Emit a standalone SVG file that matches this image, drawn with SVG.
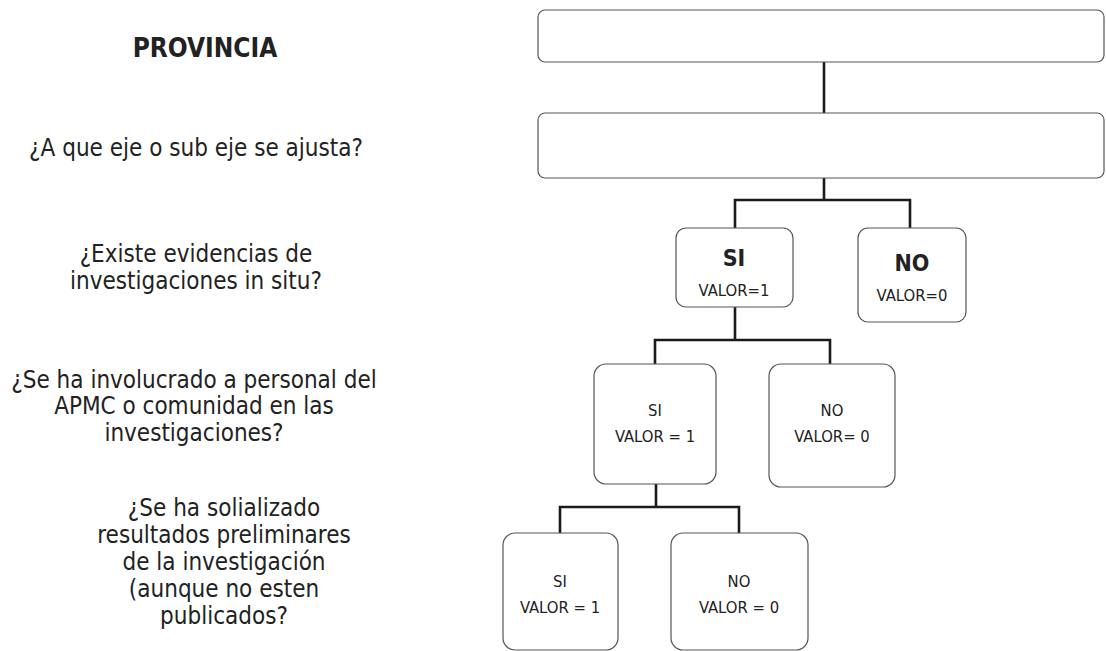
<svg xmlns="http://www.w3.org/2000/svg" width="1106" height="651" viewBox="0 0 1106 651">
<style>
.box{fill:#fff;stroke:#555;stroke-width:1.2}
.con{fill:none;stroke:#1a1a1a;stroke-width:2.6}
text{font-family:"DejaVu Sans Condensed","DejaVu Sans",sans-serif;fill:#222;text-anchor:middle}
.q{font-size:24px}
.b{font-weight:bold}
.v{font-size:16.5px}
.t{font-size:23px;font-weight:bold}
</style>
<rect width="1106" height="651" fill="#fff"/>
<g id="labels">
<text class="b" x="205" y="57" font-size="26">PROVINCIA</text>
<text class="q" x="196" y="156">¿A que eje o sub eje se ajusta?</text>
<text class="q" x="196" y="262">¿Existe evidencias de</text>
<text class="q" x="196" y="289">investigaciones in situ?</text>
<text class="q" x="194" y="388">¿Se ha involucrado a personal del</text>
<text class="q" x="194" y="414">APMC o comunidad en las</text>
<text class="q" x="194" y="441">investigaciones?</text>
<text class="q" x="224" y="516">¿Se ha solializado</text>
<text class="q" x="224" y="543">resultados preliminares</text>
<text class="q" x="224" y="570">de la investigación</text>
<text class="q" x="224" y="597">(aunque no esten</text>
<text class="q" x="224" y="624">publicados?</text>
</g>
<g id="connectors">
<path class="con" d="M824 62V113"/>
<path class="con" d="M824 178V200M735 228V200H910V228"/>
<path class="con" d="M735 307V340M655 365V340H830V365"/>
<path class="con" d="M656 484V507M560 533V507H739V533"/>
</g>
<g id="n1"><rect class="box" x="538" y="10" width="566" height="52" rx="7"/></g>
<g id="n2"><rect class="box" x="538" y="113" width="566" height="65" rx="7"/></g>
<g id="si1"><rect class="box" x="676" y="228" width="117" height="79" rx="10"/>
<text class="t" x="734" y="266">SI</text>
<text class="v" x="734" y="296">VALOR=1</text></g>
<g id="no1"><rect class="box" x="858" y="228" width="108" height="94" rx="10"/>
<text class="t" x="912" y="271">NO</text>
<text class="v" x="912" y="301">VALOR=0</text></g>
<g id="si2"><rect class="box" x="594" y="364" width="122" height="120" rx="12"/>
<text class="v" x="655" y="416">SI</text>
<text class="v" x="655" y="442">VALOR = 1</text></g>
<g id="no2"><rect class="box" x="769" y="364" width="126" height="123" rx="12"/>
<text class="v" x="832" y="416">NO</text>
<text class="v" x="832" y="442">VALOR= 0</text></g>
<g id="si3"><rect class="box" x="503" y="533" width="115" height="117" rx="12"/>
<text class="v" x="560" y="587">SI</text>
<text class="v" x="560" y="613">VALOR = 1</text></g>
<g id="no3"><rect class="box" x="671" y="533" width="137" height="117" rx="12"/>
<text class="v" x="739" y="587">NO</text>
<text class="v" x="739" y="613">VALOR = 0</text></g>
</svg>
